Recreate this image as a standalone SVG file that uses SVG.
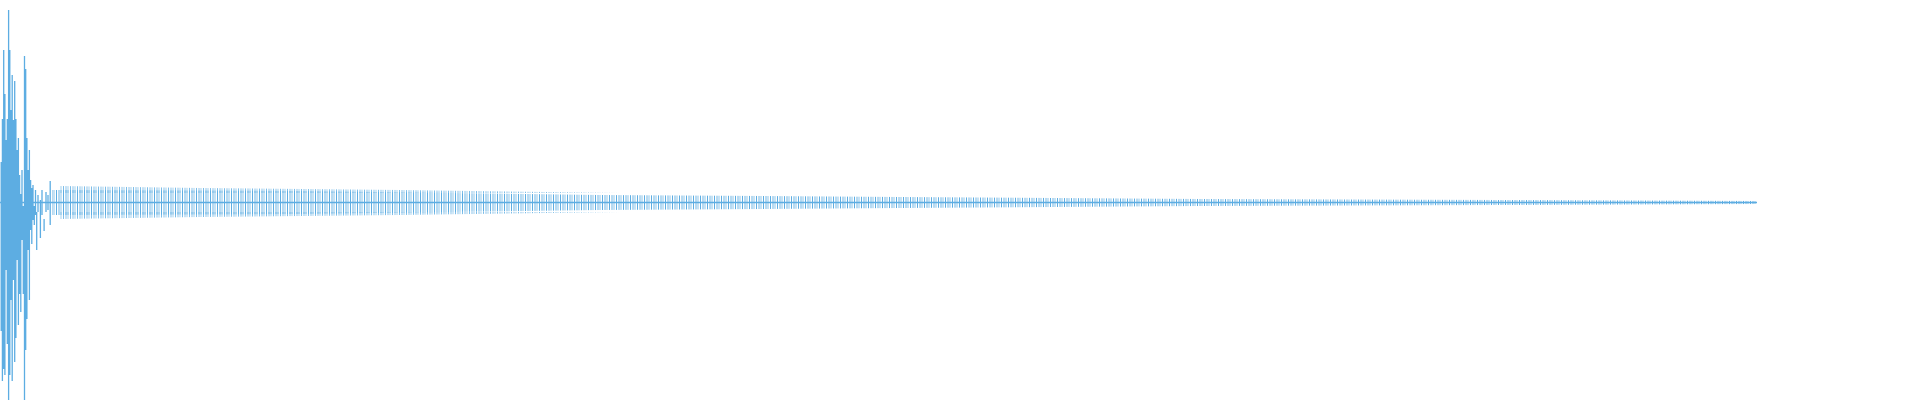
<svg xmlns="http://www.w3.org/2000/svg" width="1920" height="400" viewBox="0 0 1920 400">
<style>.w{stroke:#5DADE2;stroke-width:1.3;fill:none}</style>
<defs>
<pattern id="p" width="7" height="400" patternUnits="userSpaceOnUse">
<rect x="0" y="0" width="1" height="400" fill="#5DADE2"/>
<rect x="2.5" y="60" width="1" height="280" fill="#5DADE2" opacity="0.9"/>
<rect x="4.5" y="0" width="1" height="400" fill="#5DADE2" opacity="0.7"/>
</pattern>
</defs>
<rect width="1920" height="400" fill="#fff"/>
<g id="wave">
<line class="w" x1="0" y1="202.5" x2="1757" y2="202.5"/>
<path class="w" d="M1.2 162V331M2.4 119V381M3.7 50V369M4.9 94V375M6.1 140V270M7.3 119V344M8.6 10V400M9.8 50V375M11 110V300M12.2 75V381M13.4 120V280M14.7 81V362M15.9 119V338M17.1 150V260M18.4 138V325M19.6 175V294M20.8 194V312M22 170V240M23.3 206V294M24.5 56V400M25.7 69V350M26.9 138V319M28.2 170V250M29.4 150V300M30.6 180V230M31.8 188V244M33 185V220M34.3 206V225M35.5 190V215M36.7 212V250M38 195V212M40.4 200V238M42 190V215M44.1 219V231M46 192V212M48 195V210M50.2 181V225"/>
<polygon fill="url(#p)" points="52,190 300,191 600,195 900,197 1200,199 1500,200 1757,201 1757,204 1500,205 1200,206 900,208 600,210 300,214 52,215"/>
<polygon fill="url(#p)" opacity="0.8" points="60,186 200,188 400,190 620,193 60,193"/>
<polygon fill="url(#p)" opacity="0.8" points="60,212 620,212 400,215 200,217 60,219"/>
</g>
</svg>
